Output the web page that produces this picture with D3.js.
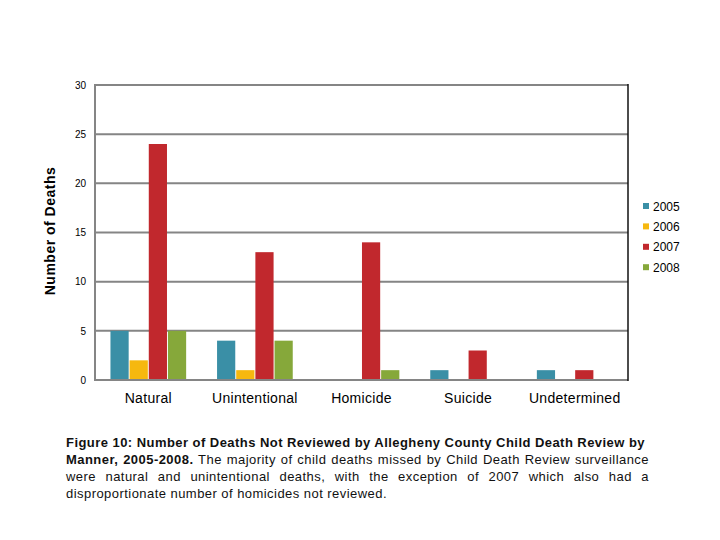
<!DOCTYPE html>
<html><head><meta charset="utf-8">
<script src="https://cdn.jsdelivr.net/npm/d3@7"></script>
<style>body{margin:0;background:#fff;} svg{display:block;font-family:Arial,"Liberation Sans",sans-serif;}</style>
</head><body><svg id="c" width="720" height="540"></svg>
<script>
const categories = ["Natural","Unintentional","Homicide","Suicide","Undetermined"];
const years = ["2005","2006","2007","2008"];
const values2005 = [5,4,0,1,1];
const values2006 = [2,1,0,0,0];
const values2007 = [24,13,14,3,1];
const values2008 = [5,4,1,0,0];
const yTicks = [0,5,10,15,20,25,30];
const colors = ["#3a8fa6","#f6b80f","#c1282d","#86a83a"];
const series = [values2005,values2006,values2007,values2008];

const svg = d3.select("#c");
const L=95,R=628,T=85,B=380;
const x = d3.scaleBand().domain(categories).range([L,R]).paddingInner(0.29).paddingOuter(0.145);
const x1 = d3.scaleBand().domain(years).range([0,x.bandwidth()]).paddingInner(0.05);
const y = d3.scaleLinear().domain([0,30]).range([B,T]);

// gridlines
svg.append("g").selectAll("line").data(yTicks).join("line")
  .attr("x1",L).attr("x2",R).attr("y1",d=>y(d)).attr("y2",d=>y(d))
  .attr("stroke","#858585").attr("stroke-width",2);
svg.append("line").attr("x1",L).attr("x2",L).attr("y1",T-1).attr("y2",B+1).attr("stroke","#858585").attr("stroke-width",2);
svg.append("line").attr("x1",R).attr("x2",R).attr("y1",T-1).attr("y2",B+1).attr("stroke","#111").attr("stroke-width",1.5);

// y axis labels
const yAxis = d3.axisLeft(y).tickValues(yTicks).tickSize(0).tickPadding(9);
const ya = svg.append("g").attr("transform",`translate(${L},0)`).call(yAxis);
ya.select(".domain").remove();
ya.selectAll("text").attr("font-size",10).attr("fill","#000").attr("font-family","Arial, 'Liberation Sans', sans-serif");

// bars
const g = svg.append("g");
categories.forEach((c,i)=>{
  years.forEach((yr,j)=>{
    const v = series[j][i];
    if(v<=0) return;
    g.append("rect").attr("x",x(c)+x1(yr)).attr("width",x1.bandwidth())
      .attr("y",y(v)).attr("height",y(0)-y(v)-1).attr("fill",colors[j]);
  });
});

// x axis labels
const xAxis = d3.axisBottom(x).tickSize(0).tickPadding(13);
const xa = svg.append("g").attr("transform",`translate(0,${B})`).call(xAxis);
xa.select(".domain").remove();
xa.selectAll("text").attr("font-size",14).attr("fill","#000").attr("letter-spacing",0.3).attr("font-family","Arial, 'Liberation Sans', sans-serif");

// y title
svg.append("text").attr("transform","translate(55,231) rotate(-90)").attr("text-anchor","middle")
  .attr("font-size",14).attr("font-weight","bold").attr("letter-spacing",0.5).text("Number of Deaths");

// legend
const lg = svg.append("g");
years.forEach((yr,j)=>{
  const yy = 206 + j*20.4;
  lg.append("rect").attr("x",643).attr("y",yy-3).attr("width",6).attr("height",6).attr("fill",colors[j]);
  lg.append("text").attr("x",653).attr("y",yy+4.5).attr("font-size",12).text(yr);
});

// caption
const capL = 66;
const lines = [
  {parts:[{t:"Figure 10: Number of Deaths Not Reviewed by Allegheny County Child Death Review by",b:true}], justify:true, right:645},
  {parts:[{t:"Manner, 2005-2008.",b:true},{t:" The majority of child deaths missed by Child Death Review surveillance",b:false}], justify:true, right:649},
  {parts:[{t:"were natural and unintentional deaths, with the exception of 2007 which also had a",b:false}], justify:true, right:649},
  {parts:[{t:"disproportionate number of homicides not reviewed.",b:false}], justify:false}
];
lines.forEach((ln,i)=>{
  const t = svg.append("text").attr("x",capL).attr("y",447+i*17).attr("font-size",13).attr("letter-spacing",0.45).attr("fill","#111");
  ln.parts.forEach(p=>{ t.append("tspan").attr("font-weight",p.b?"bold":"normal").text(p.t); });
  if(ln.justify){
    const w = t.node().getComputedTextLength();
    const full = ln.parts.map(p=>p.t).join("");
    const nsp = (full.match(/ /g)||[]).length;
    const ws = ((ln.right-capL)-w)/nsp;
    t.attr("word-spacing",ws);
  }
});
</script></body></html>
